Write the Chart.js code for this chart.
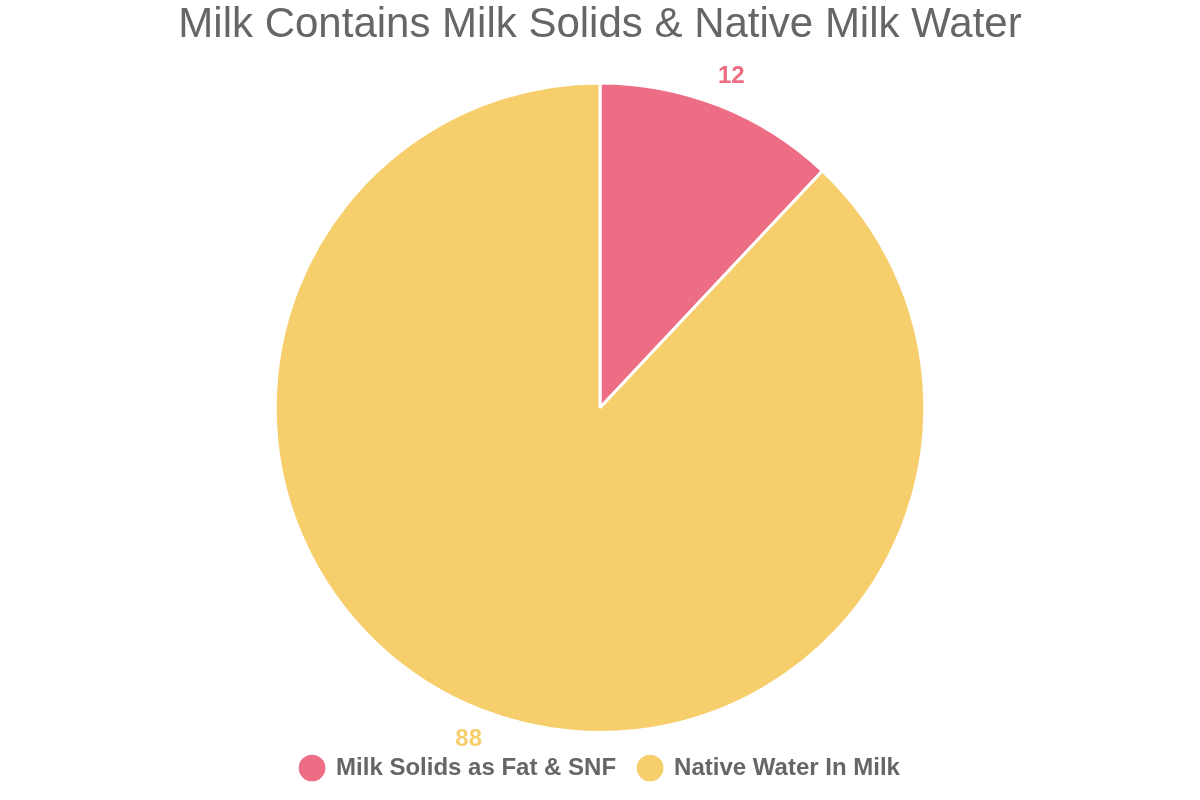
<!DOCTYPE html>
<html>
<head>
<meta charset="utf-8">
<script src="https://cdn.jsdelivr.net/npm/chart.js@4"></script>
<style>
  html, body { margin: 0; padding: 0; background: #fff; }
  #wrap { width: 1200px; height: 800px; }
</style>
</head>
<body>
<div id="wrap"><canvas id="myChart"></canvas></div>
<script>
var labels = ['Milk Solids as Fat & SNF', 'Native Water In Milk'];
var values = [12, 88];
var colors = ['rgb(237, 109, 133)', 'rgb(246, 207, 108)'];

// draws each value just outside its slice, in the slice colour
var outsideLabels = {
  id: 'outsideLabels',
  afterDatasetsDraw: function(chart) {
    var ctx = chart.ctx;
    var meta = chart.getDatasetMeta(0);
    ctx.save();
    ctx.font = 'bold 24px "Liberation Sans", Arial, sans-serif';
    ctx.textAlign = 'center';
    ctx.textBaseline = 'middle';
    meta.data.forEach(function(arc, i) {
      var mid = (arc.startAngle + arc.endAngle) / 2;
      var r = arc.outerRadius + 32;
      ctx.fillStyle = colors[i];
      ctx.fillText(values[i], arc.x + Math.cos(mid) * r, arc.y + Math.sin(mid) * r);
    });
    ctx.restore();
  }
};

window.onload = function() {
  init();
};

function init() {
  var ctx = document.getElementById('myChart').getContext('2d');
  var chart = new Chart(ctx, {
    type: 'pie',
    data: {
      labels: labels,
      datasets: [{
        data: values,
        backgroundColor: colors,
        borderColor: '#fff',
        borderWidth: 3
      }]
    },
    options: {
      responsive: true,
      maintainAspectRatio: false,
      animation: false,
      layout: {
        padding: { top: 0, bottom: 10 }
      },
      plugins: {
        title: {
          display: true,
          text: 'Milk Contains Milk Solids & Native Milk Water',
          color: '#666',
          font: { size: 42, family: '"Liberation Sans", Arial, sans-serif', weight: 'normal' },
          padding: { top: 0, bottom: 31 }
        },
        legend: {
          position: 'bottom',
          labels: {
            usePointStyle: true,
            boxHeight: 21,
            color: '#666',
            font: { size: 24, weight: 'bold', family: '"Liberation Sans", Arial, sans-serif' },
            padding: 22
          }
        },
        tooltip: { enabled: false }
      }
    },
    plugins: [outsideLabels]
  });
}
</script>
</body>
</html>
